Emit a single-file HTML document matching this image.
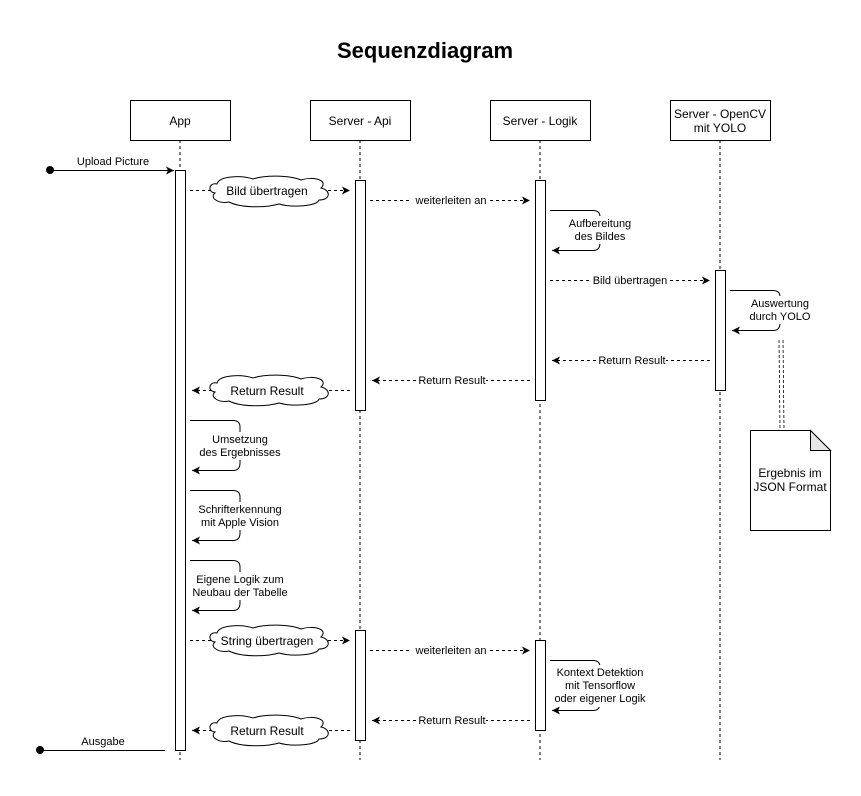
<!DOCTYPE html>
<html><head><meta charset="utf-8"><style>html,body{margin:0;padding:0;background:#fff}</style></head>
<body>
<svg width="861" height="791" viewBox="0 0 861 791" xmlns="http://www.w3.org/2000/svg" font-family="Liberation Sans, Arial, sans-serif" font-size="11">
<defs>
<marker id="a" markerWidth="10" markerHeight="10" refX="8" refY="4" orient="auto" markerUnits="userSpaceOnUse"><path d="M0,0 L8,4 L0,8 L2,4 Z" fill="#000"/></marker>
<g id="cloud"><path d="M12,8 C4,6 2,16 10,17 C4,22 14,28 24,26 C36,32 60,32 74,28 C88,32 112,30 114,24 C126,24 126,14 116,12 C124,4 108,0 96,4 C84,-1 60,-1 48,3 C36,-1 14,0 12,8 Z" fill="#fff" stroke="#000" stroke-width="1"/></g>
</defs>
<text x="425" y="58" font-size="22" font-weight="bold" text-anchor="middle">Sequenzdiagram</text>
<g stroke="#000" stroke-dasharray="3,3" stroke-width="1">
<line x1="180" y1="140" x2="180" y2="760"/>
<line x1="360" y1="140" x2="360" y2="760"/>
<line x1="540" y1="140" x2="540" y2="760"/>
<line x1="720" y1="140" x2="720" y2="760"/>
</g>
<g fill="#fff" stroke="#000">
<rect x="130.5" y="100.5" width="100" height="40"/>
<rect x="310.5" y="100.5" width="100" height="40"/>
<rect x="490.5" y="100.5" width="100" height="40"/>
<rect x="670.5" y="100.5" width="100" height="40"/>
</g>
<g text-anchor="middle" font-size="12">
<text x="180" y="125">App</text>
<text x="360" y="125">Server - Api</text>
<text x="540" y="125">Server - Logik</text>
<text x="720" y="118">Server - OpenCV</text>
<text x="720" y="132">mit YOLO</text>
</g>
<g fill="#fff" stroke="#000">
<rect x="175.5" y="170.5" width="10" height="580"/>
<rect x="355.5" y="180.5" width="10" height="230"/>
<rect x="535.5" y="180.5" width="10" height="220"/>
<rect x="715.5" y="270.5" width="10" height="120"/>
<rect x="355.5" y="630.5" width="10" height="110"/>
<rect x="535.5" y="640.5" width="10" height="90"/>
</g>
<g stroke="#000" stroke-dasharray="3,2" stroke-width="0.8">
<line x1="779" y1="340" x2="780" y2="430"/>
<line x1="783" y1="340" x2="784" y2="430"/>
</g>
<path d="M750.5,430.5 H810.5 L830.5,450.5 V530.5 H750.5 Z" fill="#fff" stroke="#000"/>
<path d="M810.5,430.5 V450.5 H830.5 Z" fill="#e6e6e6" stroke="#000"/>
<text x="790" y="477" text-anchor="middle" font-size="12">Ergebnis im</text>
<text x="790" y="491" text-anchor="middle" font-size="12">JSON Format</text>
<circle cx="50" cy="170" r="4"/>
<line x1="50" y1="170.5" x2="174" y2="170.5" stroke="#000" marker-end="url(#a)"/>
<text x="113" y="165" text-anchor="middle">Upload Picture</text>
<circle cx="40" cy="750" r="4"/>
<line x1="40" y1="750.5" x2="165" y2="750.5" stroke="#000"/>
<text x="103" y="745" text-anchor="middle">Ausgabe</text>
<g stroke="#000" stroke-dasharray="3,3" fill="none">
<line x1="190" y1="190.5" x2="350" y2="190.5" marker-end="url(#a)"/>
<line x1="370" y1="200.5" x2="530" y2="200.5" marker-end="url(#a)"/>
<line x1="550" y1="280.5" x2="710" y2="280.5" marker-end="url(#a)"/>
<line x1="710" y1="360.5" x2="552" y2="360.5" marker-end="url(#a)"/>
<line x1="530" y1="380.5" x2="372" y2="380.5" marker-end="url(#a)"/>
<line x1="350" y1="390.5" x2="192" y2="390.5" marker-end="url(#a)"/>
<line x1="190" y1="640.5" x2="350" y2="640.5" marker-end="url(#a)"/>
<line x1="370" y1="650.5" x2="530" y2="650.5" marker-end="url(#a)"/>
<line x1="530" y1="720.5" x2="372" y2="720.5" marker-end="url(#a)"/>
<line x1="350" y1="730.5" x2="192" y2="730.5" marker-end="url(#a)"/>
</g>
<g fill="#fff">
<rect x="412" y="193" width="78" height="14"/>
<rect x="592" y="273" width="76" height="14"/>
<rect x="598" y="353" width="68" height="14"/>
<rect x="418" y="373" width="68" height="14"/>
<rect x="412" y="643" width="78" height="14"/>
<rect x="418" y="713" width="68" height="14"/>
</g>
<g text-anchor="middle">
<text x="451" y="204">weiterleiten an</text>
<text x="630" y="284">Bild übertragen</text>
<text x="632" y="364">Return Result</text>
<text x="452" y="384">Return Result</text>
<text x="451" y="654">weiterleiten an</text>
<text x="452" y="724">Return Result</text>
</g>
<use href="#cloud" x="205" y="176"/>
<use href="#cloud" x="205" y="375"/>
<use href="#cloud" x="205" y="625"/>
<use href="#cloud" x="205" y="715"/>
<g text-anchor="middle" font-size="12">
<text x="267" y="195">Bild übertragen</text>
<text x="267" y="395">Return Result</text>
<text x="267" y="645">String übertragen</text>
<text x="267" y="735">Return Result</text>
</g>
<g stroke="#000" fill="none">
<path d="M190,420.5 H233 Q240,420.5 240,427 V463 Q240,470.5 233,470.5 H192" marker-end="url(#a)"/>
<path d="M190,490.5 H233 Q240,490.5 240,497 V533 Q240,540.5 233,540.5 H192" marker-end="url(#a)"/>
<path d="M190,560.5 H233 Q240,560.5 240,567 V603 Q240,610.5 233,610.5 H192" marker-end="url(#a)"/>
<path d="M550,210.5 H593 Q600,210.5 600,217 V243 Q600,250.5 593,250.5 H552" marker-end="url(#a)"/>
<path d="M730,290.5 H773 Q780,290.5 780,297 V323 Q780,330.5 773,330.5 H732" marker-end="url(#a)"/>
<path d="M550,660.5 H593 Q600,660.5 600,667 V703 Q600,710.5 593,710.5 H552" marker-end="url(#a)"/>
</g>
<g fill="#fff">
<rect x="205" y="432" width="80" height="28"/>
<rect x="196" y="502" width="90" height="28"/>
<rect x="190" y="572" width="100" height="28"/>
<rect x="565" y="216" width="70" height="28"/>
<rect x="745" y="296" width="70" height="28"/>
<rect x="552" y="665" width="100" height="42"/>
</g>
<g text-anchor="middle">
<text x="240" y="443">Umsetzung</text>
<text x="240" y="456">des Ergebnisses</text>
<text x="240" y="513">Schrifterkennung</text>
<text x="240" y="526">mit Apple Vision</text>
<text x="240" y="583">Eigene Logik zum</text>
<text x="240" y="596">Neubau der Tabelle</text>
<text x="600" y="227">Aufbereitung</text>
<text x="600" y="240">des Bildes</text>
<text x="780" y="307">Auswertung</text>
<text x="780" y="320">durch YOLO</text>
<text x="600" y="676">Kontext Detektion</text>
<text x="600" y="689">mit Tensorflow</text>
<text x="600" y="702">oder eigener Logik</text>
</g>
</svg>
</body></html>
